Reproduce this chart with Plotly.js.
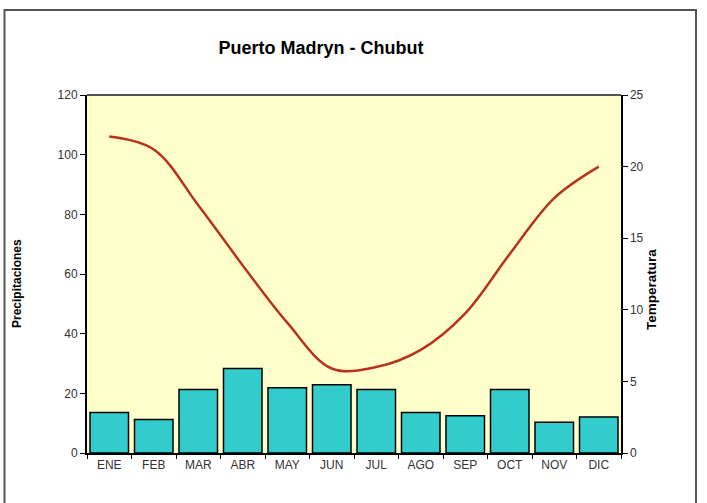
<!DOCTYPE html>
<html>
<head>
<meta charset="utf-8">
<script src="https://cdn.plot.ly/plotly-3.0.1.min.js"></script>
<style>
html,body{margin:0;padding:0;background:#fff;}
#chart{width:707px;height:503px;}
</style>
</head>
<body>
<div id="chart"></div>
<script>
const months = ["ENE","FEB","MAR","ABR","MAY","JUN","JUL","AGO","SEP","OCT","NOV","DIC"];
const precipitaciones = [13.6, 11.2, 21.3, 28.3, 21.9, 22.9, 21.3, 13.6, 12.5, 21.3, 10.3, 12.1];
const temperatura = [22.1, 21.2, 17.3, 13.1, 9.1, 5.9, 6.0, 7.2, 9.75, 13.9, 17.8, 20.0];
const leftTicks = [0, 20, 40, 60, 80, 100, 120];
const rightTicks = [0, 5, 10, 15, 20, 25];

const W = 707, H = 503;
const M = {l: 87, r: 86, t: 95, b: 50};
const pw = W - M.l - M.r, ph = H - M.t - M.b;
const px = v => (v - M.l) / pw;
const py = v => (H - M.b - v) / ph;

const FONT = '"Liberation Sans", Arial, sans-serif';

const traces = [
  {
    type: 'bar', x: months, y: precipitaciones, name: 'Precipitaciones',
    marker: {color: '#33CCCC', line: {color: '#000000', width: 1.5}},
    hoverinfo: 'x+y'
  },
  {
    type: 'scatter', mode: 'lines', x: months, y: temperatura, yaxis: 'y2', name: 'Temperatura',
    line: {color: '#B8321E', width: 2.5, shape: 'spline', smoothing: 1.0}
  }
];

const layout = {
  width: W, height: H,
  margin: M,
  paper_bgcolor: '#ffffff',
  plot_bgcolor: '#FFFFCC',
  showlegend: false,
  bargap: 0.135,
  font: {family: FONT, size: 12, color: '#333333'},
  title: {text: '<b>Puerto Madryn - Chubut</b>', x: 0.454, xanchor: 'center', y: 1 - 48/H, yanchor: 'middle',
          font: {family: FONT, size: 18, color: '#000000'}},
  xaxis: {
    type: 'category', showgrid: false, zeroline: false,
    showline: true, linecolor: '#000000', linewidth: 2, mirror: false,
    ticks: 'outside', tickson: 'boundaries', ticklen: 4, tickcolor: '#000000', tickwidth: 1,
    tickfont: {family: FONT, size: 12, color: '#333333'},
    fixedrange: true
  },
  yaxis: {
    range: [0, 120], tickvals: leftTicks, showgrid: false, zeroline: false,
    showline: true, linecolor: '#000000', linewidth: 2,
    ticks: 'outside', ticklen: 5, tickcolor: '#000000', tickwidth: 1,
    tickfont: {family: FONT, size: 12, color: '#333333'},
    fixedrange: true
  },
  yaxis2: {
    overlaying: 'y', side: 'right', range: [0, 25], tickvals: rightTicks,
    showgrid: false, zeroline: false,
    showline: true, linecolor: '#000000', linewidth: 1.5,
    ticks: 'outside', ticklen: 5, tickcolor: '#000000', tickwidth: 1,
    tickfont: {family: FONT, size: 12, color: '#333333'},
    fixedrange: true
  },
  annotations: [
    {text: '<b>Precipitaciones</b>', xref: 'paper', yref: 'paper', x: px(17), y: py(284),
     showarrow: false, textangle: -90, xanchor: 'center', yanchor: 'middle',
     font: {family: FONT, size: 12, color: '#000000'}},
    {text: '<b>Temperatura</b>', xref: 'paper', yref: 'paper', x: px(651), y: py(290),
     showarrow: false, textangle: -90, xanchor: 'center', yanchor: 'middle',
     font: {family: FONT, size: 13.5, color: '#000000'}}
  ],
  shapes: [
    {type: 'line', xref: 'paper', yref: 'paper', x0: 0, x1: 1, y0: 1, y1: 1,
     line: {color: '#555555', width: 2}},
    {type: 'rect', xref: 'paper', yref: 'paper', x0: px(4.5), x1: px(696), y0: py(10), y1: py(515),
     line: {color: '#555555', width: 2}, layer: 'above'}
  ]
};

Plotly.newPlot('chart', traces, layout, {staticPlot: true, displayModeBar: false});
</script>
</body>
</html>
